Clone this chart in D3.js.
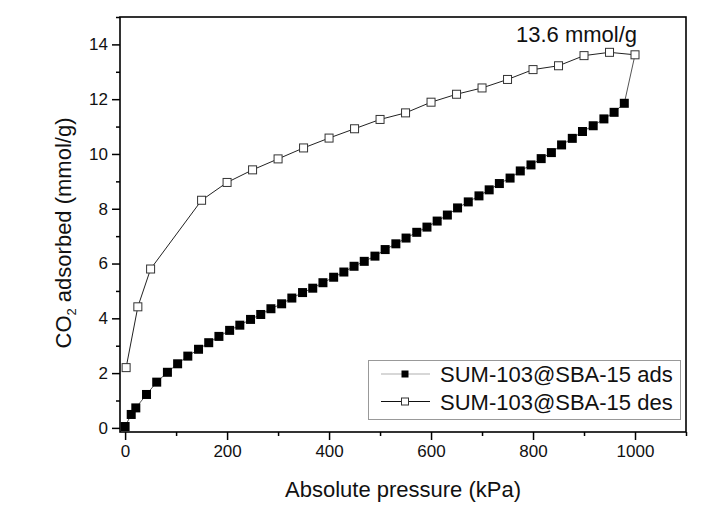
<!DOCTYPE html>
<html>
<head>
<meta charset="utf-8">
<script src="https://cdn.jsdelivr.net/npm/d3@7/dist/d3.min.js"></script>
<style>
  body { margin: 0; background: #fff; }
  text { font-family: "Liberation Sans", Arial, sans-serif; fill: #111; }
</style>
</head>
<body>
<svg id="chart" width="715" height="520"></svg>
<script>
// ---- data ----
const adsPressure = [0, 12, 21, 42, 62, 83, 103, 123, 144, 164, 184, 205, 225, 246, 266, 286, 307, 327, 348, 368, 388, 409, 429, 449, 469, 490, 510, 531, 551, 572, 592, 612, 632, 652, 673, 694, 714, 734, 755, 775, 796, 816, 836, 856, 877, 897, 918, 939, 959, 979, 1000];
const adsUptake   = [0.05, 0.49, 0.73, 1.22, 1.67, 2.03, 2.34, 2.62, 2.87, 3.11, 3.34, 3.56, 3.75, 3.96, 4.14, 4.35, 4.53, 4.74, 4.94, 5.10, 5.30, 5.50, 5.69, 5.90, 6.08, 6.27, 6.51, 6.72, 6.93, 7.14, 7.33, 7.55, 7.77, 8.03, 8.25, 8.47, 8.69, 8.92, 9.12, 9.38, 9.60, 9.83, 10.05, 10.33, 10.57, 10.82, 11.03, 11.28, 11.52, 11.85, 13.62];
const desPressure = [1000, 950, 900, 850, 800, 750, 700, 650, 600, 550, 500, 450, 400, 350, 300, 250, 200, 150, 50, 25, 2];
const desUptake   = [13.62, 13.71, 13.59, 13.22, 13.08, 12.72, 12.41, 12.18, 11.89, 11.50, 11.26, 10.92, 10.58, 10.22, 9.82, 9.42, 8.96, 8.31, 5.80, 4.42, 2.20];
const xMajorTicks = [0, 200, 400, 600, 800, 1000];
const xMinorTicks = [100, 300, 500, 700, 900, 1100];
const yMajorTicks = [0, 2, 4, 6, 8, 10, 12, 14];
const yMinorTicks = [1, 3, 5, 7, 9, 11, 13, 15];
const seriesNames = ["SUM-103@SBA-15 ads", "SUM-103@SBA-15 des"];
const annotationText = "13.6 mmol/g";
const xTitle = "Absolute pressure (kPa)";

// ---- layout ----
const svg = d3.select("#chart");
const pL = 120, pR = 686, pT = 17, pB = 432;
const x = d3.scaleLinear().domain([-10, 1100]).range([pL, pR]);
const y = d3.scaleLinear().domain([-0.15, 15]).range([pB, pT]);

// axes
function styleAxis(g) {
  g.select(".domain").remove();
  g.selectAll(".tick line").attr("stroke", "#000").attr("stroke-width", 1.5);
  g.selectAll(".tick text").style("font-size", "17px").attr("fill", "#111");
}
svg.append("g").attr("transform", `translate(0,${pB})`)
  .call(d3.axisBottom(x).tickValues(xMajorTicks).tickSize(8).tickPadding(5).tickFormat(d3.format("d")))
  .call(styleAxis);
svg.append("g").attr("transform", `translate(0,${pB})`)
  .call(d3.axisBottom(x).tickValues(xMinorTicks).tickSize(4).tickFormat(""))
  .call(styleAxis);
svg.append("g").attr("transform", `translate(${pL},0)`)
  .call(d3.axisLeft(y).tickValues(yMajorTicks).tickSize(8).tickPadding(4).tickFormat(d3.format("d")))
  .call(styleAxis);
svg.append("g").attr("transform", `translate(${pL},0)`)
  .call(d3.axisLeft(y).tickValues(yMinorTicks).tickSize(4).tickFormat(""))
  .call(styleAxis);

// frame
svg.append("rect").attr("x", pL).attr("y", pT)
  .attr("width", pR - pL).attr("height", pB - pT)
  .attr("fill", "none").attr("stroke", "#000").attr("stroke-width", 1.6);

// data
const ads = adsPressure.map((p, i) => ({p, v: adsUptake[i]}));
const des = desPressure.map((p, i) => ({p, v: desUptake[i]}));
const line = d3.line().x(d => x(d.p)).y(d => y(d.v));

svg.append("path").datum(ads).attr("d", line)
  .attr("fill", "none").attr("stroke", "#555").attr("stroke-width", 1);
svg.append("g").selectAll("rect").data(ads.slice(0, -1)).join("rect")
  .attr("x", d => x(d.p) - 4.5).attr("y", d => y(d.v) - 4.5)
  .attr("width", 9).attr("height", 9).attr("fill", "#000");

svg.append("path").datum(des).attr("d", line)
  .attr("fill", "none").attr("stroke", "#222").attr("stroke-width", 1);
svg.append("g").selectAll("rect").data(des).join("rect")
  .attr("x", d => x(d.p) - 4).attr("y", d => y(d.v) - 4)
  .attr("width", 8).attr("height", 8)
  .attr("fill", "#fff").attr("stroke", "#333").attr("stroke-width", 1);

// annotation
svg.append("text").attr("x", 516).attr("y", 42)
  .style("font-size", "22px").text(annotationText);

// axis titles
svg.append("text").attr("x", (pL + pR) / 2).attr("y", 497)
  .attr("text-anchor", "middle").style("font-size", "22px").text(xTitle);
const yt = svg.append("text")
  .attr("transform", "translate(71,233) rotate(-90)")
  .attr("text-anchor", "middle").style("font-size", "22px");
yt.append("tspan").text("CO");
yt.append("tspan").attr("dy", 5).style("font-size", "13px").text("2");
yt.append("tspan").attr("dy", -5).text(" adsorbed (mmol/g)");

// legend
const lg = svg.append("g");
lg.append("rect").attr("x", 368.5).attr("y", 360.5).attr("width", 312).attr("height", 59)
  .attr("fill", "#fff").attr("stroke", "#999").attr("stroke-width", 1);
const rows = [
  {name: seriesNames[0], cy: 374, lineColor: "#b0b0b0", fill: "#000", stroke: "none", size: 7},
  {name: seriesNames[1], cy: 401.5, lineColor: "#111", fill: "#fff", stroke: "#333", size: 7}
];
rows.forEach(r => {
  lg.append("line").attr("x1", 381).attr("x2", 430).attr("y1", r.cy).attr("y2", r.cy)
    .attr("stroke", r.lineColor).attr("stroke-width", 1.2);
  lg.append("rect").attr("x", 405 - r.size / 2).attr("y", r.cy - r.size / 2)
    .attr("width", r.size).attr("height", r.size)
    .attr("fill", r.fill).attr("stroke", r.stroke).attr("stroke-width", 1);
  lg.append("text").attr("x", 440).attr("y", r.cy + 8)
    .style("font-size", "22px").text(r.name);
});
</script>
</body>
</html>
